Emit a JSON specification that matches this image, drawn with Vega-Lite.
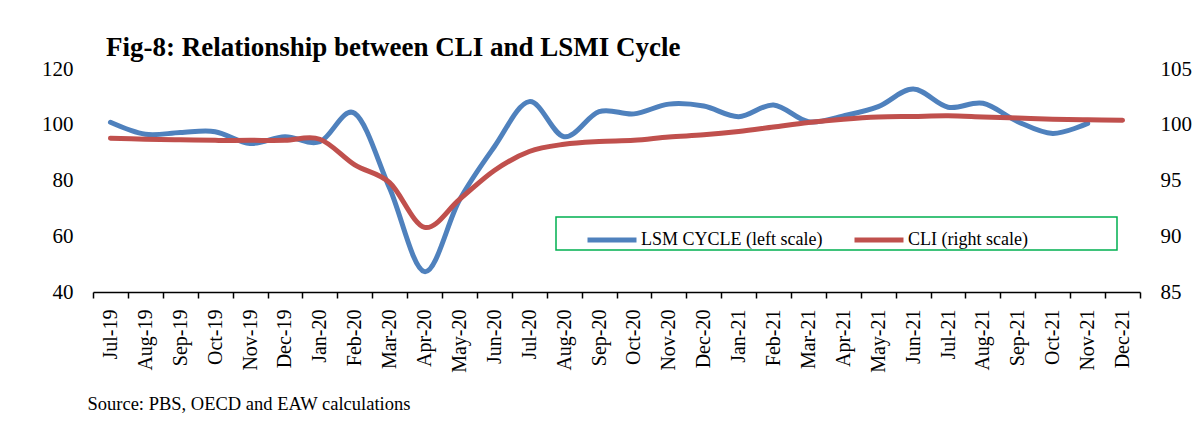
{
  "$schema": "https://vega.github.io/schema/vega-lite/v6.json",
  "width": 1047,
  "height": 223,
  "autosize": {"type": "none"},
  "padding": {"left": 93, "top": 69, "right": 62, "bottom": 134},
  "background": "white",
  "title": {
    "text": "Fig-8: Relationship between CLI and LSMI Cycle",
    "font": "Liberation Serif",
    "fontSize": 27,
    "fontWeight": "bold",
    "color": "black",
    "anchor": "start",
    "frame": "group",
    "dx": 13,
    "dy": 8,
    "offset": 4
  },
  "data": {
    "values": [
      {"month": "Jul-19", "series": "LSM CYCLE (left scale)", "value": 100.9},
      {"month": "Aug-19", "series": "LSM CYCLE (left scale)", "value": 96.6},
      {"month": "Sep-19", "series": "LSM CYCLE (left scale)", "value": 97.2},
      {"month": "Oct-19", "series": "LSM CYCLE (left scale)", "value": 97.5},
      {"month": "Nov-19", "series": "LSM CYCLE (left scale)", "value": 93.3},
      {"month": "Dec-19", "series": "LSM CYCLE (left scale)", "value": 95.7},
      {"month": "Jan-20", "series": "LSM CYCLE (left scale)", "value": 93.9},
      {"month": "Feb-20", "series": "LSM CYCLE (left scale)", "value": 104.1},
      {"month": "Mar-20", "series": "LSM CYCLE (left scale)", "value": 77.2},
      {"month": "Apr-20", "series": "LSM CYCLE (left scale)", "value": 47.3},
      {"month": "May-20", "series": "LSM CYCLE (left scale)", "value": 73.0},
      {"month": "Jun-20", "series": "LSM CYCLE (left scale)", "value": 92.1},
      {"month": "Jul-20", "series": "LSM CYCLE (left scale)", "value": 108.3},
      {"month": "Aug-20", "series": "LSM CYCLE (left scale)", "value": 95.7},
      {"month": "Sep-20", "series": "LSM CYCLE (left scale)", "value": 104.7},
      {"month": "Oct-20", "series": "LSM CYCLE (left scale)", "value": 103.9},
      {"month": "Nov-20", "series": "LSM CYCLE (left scale)", "value": 107.4},
      {"month": "Dec-20", "series": "LSM CYCLE (left scale)", "value": 106.7},
      {"month": "Jan-21", "series": "LSM CYCLE (left scale)", "value": 102.9},
      {"month": "Feb-21", "series": "LSM CYCLE (left scale)", "value": 107.1},
      {"month": "Mar-21", "series": "LSM CYCLE (left scale)", "value": 101.1},
      {"month": "Apr-21", "series": "LSM CYCLE (left scale)", "value": 103.2},
      {"month": "May-21", "series": "LSM CYCLE (left scale)", "value": 106.5},
      {"month": "Jun-21", "series": "LSM CYCLE (left scale)", "value": 112.8},
      {"month": "Jul-21", "series": "LSM CYCLE (left scale)", "value": 106.3},
      {"month": "Aug-21", "series": "LSM CYCLE (left scale)", "value": 107.7},
      {"month": "Sep-21", "series": "LSM CYCLE (left scale)", "value": 101.1},
      {"month": "Oct-21", "series": "LSM CYCLE (left scale)", "value": 96.9},
      {"month": "Nov-21", "series": "LSM CYCLE (left scale)", "value": 100.5},
      {"month": "Jul-19", "series": "CLI (right scale)", "value": 98.8},
      {"month": "Aug-19", "series": "CLI (right scale)", "value": 98.7},
      {"month": "Sep-19", "series": "CLI (right scale)", "value": 98.65},
      {"month": "Oct-19", "series": "CLI (right scale)", "value": 98.6},
      {"month": "Nov-19", "series": "CLI (right scale)", "value": 98.6},
      {"month": "Dec-19", "series": "CLI (right scale)", "value": 98.6},
      {"month": "Jan-20", "series": "CLI (right scale)", "value": 98.7},
      {"month": "Feb-20", "series": "CLI (right scale)", "value": 96.4},
      {"month": "Mar-20", "series": "CLI (right scale)", "value": 94.8},
      {"month": "Apr-20", "series": "CLI (right scale)", "value": 90.8},
      {"month": "May-20", "series": "CLI (right scale)", "value": 93.3},
      {"month": "Jun-20", "series": "CLI (right scale)", "value": 95.9},
      {"month": "Jul-20", "series": "CLI (right scale)", "value": 97.6},
      {"month": "Aug-20", "series": "CLI (right scale)", "value": 98.25},
      {"month": "Sep-20", "series": "CLI (right scale)", "value": 98.5},
      {"month": "Oct-20", "series": "CLI (right scale)", "value": 98.6},
      {"month": "Nov-20", "series": "CLI (right scale)", "value": 98.9},
      {"month": "Dec-20", "series": "CLI (right scale)", "value": 99.1},
      {"month": "Jan-21", "series": "CLI (right scale)", "value": 99.4},
      {"month": "Feb-21", "series": "CLI (right scale)", "value": 99.8},
      {"month": "Mar-21", "series": "CLI (right scale)", "value": 100.2},
      {"month": "Apr-21", "series": "CLI (right scale)", "value": 100.5},
      {"month": "May-21", "series": "CLI (right scale)", "value": 100.7},
      {"month": "Jun-21", "series": "CLI (right scale)", "value": 100.75},
      {"month": "Jul-21", "series": "CLI (right scale)", "value": 100.8},
      {"month": "Aug-21", "series": "CLI (right scale)", "value": 100.7},
      {"month": "Sep-21", "series": "CLI (right scale)", "value": 100.6},
      {"month": "Oct-21", "series": "CLI (right scale)", "value": 100.5},
      {"month": "Nov-21", "series": "CLI (right scale)", "value": 100.45},
      {"month": "Dec-21", "series": "CLI (right scale)", "value": 100.4}
    ]
  },
  "encoding": {
    "x": {
      "field": "month",
      "type": "nominal",
      "bandPosition": 0.5,
      "scale": {
        "type": "band",
        "paddingInner": 0,
        "paddingOuter": 0,
        "domain": ["Jul-19", "Aug-19", "Sep-19", "Oct-19", "Nov-19", "Dec-19", "Jan-20", "Feb-20", "Mar-20", "Apr-20", "May-20", "Jun-20", "Jul-20", "Aug-20", "Sep-20", "Oct-20", "Nov-20", "Dec-20", "Jan-21", "Feb-21", "Mar-21", "Apr-21", "May-21", "Jun-21", "Jul-21", "Aug-21", "Sep-21", "Oct-21", "Nov-21", "Dec-21"]
      },
      "axis": {
        "title": "Source: PBS, OECD and EAW calculations",
        "titleFont": "Liberation Serif",
        "titleFontSize": 18.5,
        "titleFontWeight": "normal",
        "titleColor": "black",
        "titleAnchor": "start",
        "titleAlign": "left",
        "titleBaseline": "alphabetic",
        "titleX": -6,
        "titleY": 117,
        "labelAngle": -90,
        "labelAlign": "right",
        "labelBaseline": "middle",
        "labelFont": "Liberation Serif",
        "labelFontSize": 20,
        "labelColor": "black",
        "labelPadding": 11,
        "tickSize": 6,
        "tickWidth": 1.5,
        "tickColor": "black",
        "tickBand": "extent",
        "domainColor": "black",
        "domainWidth": 1.5,
        "grid": false
      }
    }
  },
  "layer": [
    {
      "transform": [{"filter": "datum.series === 'LSM CYCLE (left scale)'"}],
      "mark": {"type": "line", "interpolate": "cardinal", "strokeWidth": 5, "strokeCap": "round", "strokeJoin": "round"},
      "encoding": {
        "y": {
          "field": "value",
          "type": "quantitative",
          "scale": {"domain": [40, 120], "nice": false, "zero": false},
          "axis": {
            "title": null,
            "values": [40, 60, 80, 100, 120],
            "grid": false,
            "domain": false,
            "ticks": false,
            "tickSize": 0,
            "labelPadding": 20,
            "labelFont": "Liberation Serif",
            "labelFontSize": 21,
            "labelColor": "black"
          }
        },
        "color": {
          "field": "series",
          "type": "nominal",
          "scale": {"domain": ["LSM CYCLE (left scale)", "CLI (right scale)"], "range": ["#4F81BD", "#C0504D"]},
          "legend": {
            "title": " ",
            "titleOrient": "right",
            "titleFontSize": 10,
            "titlePadding": 89,
            "orient": "none",
            "legendX": 463,
            "legendY": 148,
            "direction": "horizontal",
            "columns": 2,
            "gridAlign": "all",
            "symbolType": "M-1.195,0H1.195",
            "symbolSize": 1681,
            "symbolStrokeWidth": 5,
            "symbolOffset": 33,
            "labelOffset": 6,
            "columnPadding": 0,
            "padding": 0,
            "labelFont": "Liberation Serif",
            "labelFontSize": 18,
            "labelColor": "black",
            "labelLimit": 400,
            "strokeColor": "#00B050"
          }
        }
      }
    },
    {
      "transform": [{"filter": "datum.series === 'CLI (right scale)'"}],
      "mark": {"type": "line", "interpolate": "cardinal", "strokeWidth": 5, "strokeCap": "round", "strokeJoin": "round"},
      "encoding": {
        "y": {
          "field": "value",
          "type": "quantitative",
          "scale": {"domain": [85, 105], "nice": false, "zero": false},
          "axis": {
            "title": null,
            "orient": "right",
            "values": [85, 90, 95, 100, 105],
            "grid": false,
            "domain": false,
            "ticks": false,
            "tickSize": 0,
            "labelPadding": 20,
            "labelFont": "Liberation Serif",
            "labelFontSize": 21,
            "labelColor": "black"
          }
        },
        "color": {
          "field": "series",
          "type": "nominal"
        }
      }
    }
  ],
  "resolve": {"scale": {"y": "independent"}},
  "config": {
    "view": {"stroke": null},
    "legend": {"strokeWidth": 1.5}
  }
}
